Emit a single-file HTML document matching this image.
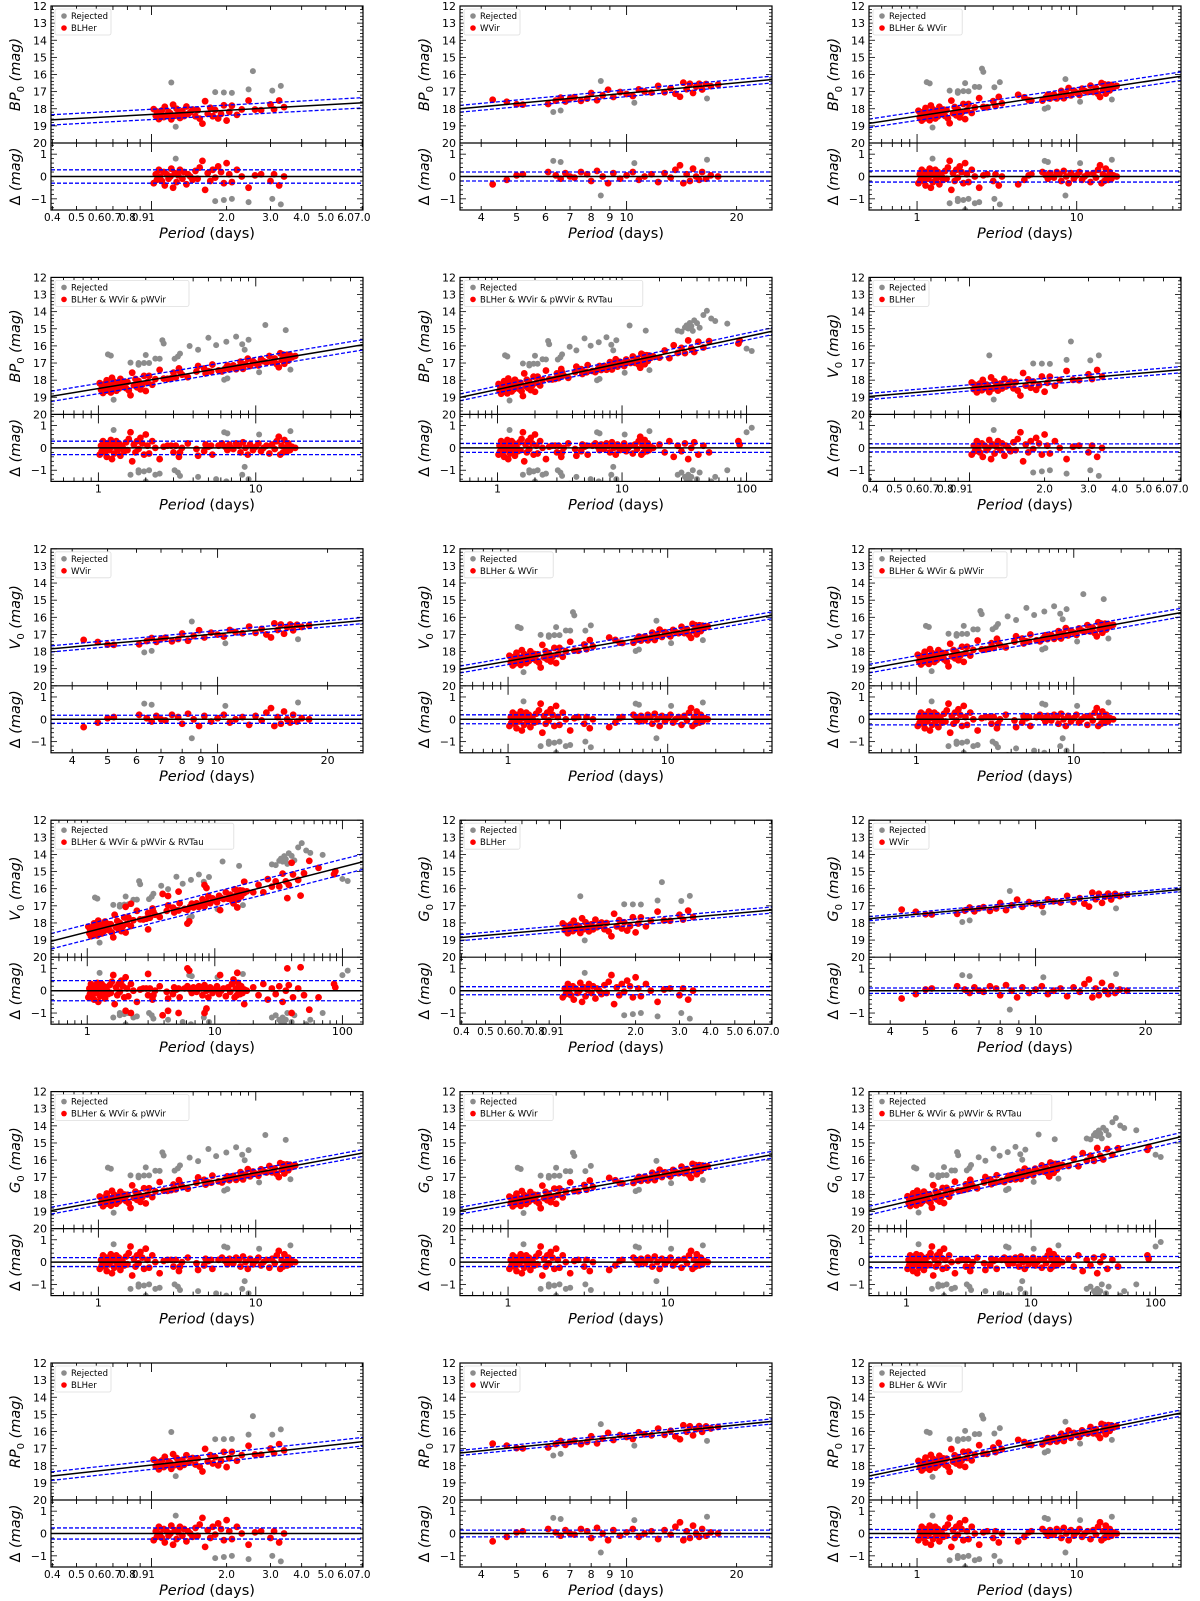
<!DOCTYPE html>
<html><head><meta charset="utf-8"><style>
html,body{margin:0;padding:0;background:#fff;}
svg{display:block;font-family:"DejaVu Sans","Liberation Sans",sans-serif;}
</style></head><body>
<svg id="fig" width="1200" height="1601" viewBox="0 0 1200 1601" xmlns="http://www.w3.org/2000/svg"></svg>
<script>
// ---- data (period in days, residual in mag) ----
const blP=[1.02,1.04,1.05,1.07,1.08,1.1,1.12,1.13,1.15,1.17,1.19,1.2,1.22,1.24,1.26,1.28,1.3,1.33,1.35,1.38,1.4,1.43,1.46,1.5,1.53,1.56,1.6,1.64,1.68,1.72,1.76,1.8,1.85,1.9,1.95,2.0,2.05,2.1,2.2,2.3,2.45,2.6,2.75,3.0,3.1,3.25,3.4];
const blD=[-0.3,0.1,-0.15,0.3,0.0,-0.2,0.2,-0.4,0.1,-0.1,0.0,0.35,-0.5,0.15,-0.25,0.05,0.3,-0.1,0.2,-0.35,0.1,0.0,-0.15,0.25,-0.1,0.4,0.7,-0.6,0.15,-0.2,0.3,-0.05,0.45,0.2,-0.3,0.6,0.1,-0.25,0.3,0.0,-0.5,0.05,0.1,-0.2,0.1,-0.4,0.0];
const wvP=[4.3,4.7,5.0,5.2,6.1,6.4,6.6,6.8,7.0,7.2,7.5,7.8,8.0,8.3,8.6,8.9,9.2,9.6,10.0,10.4,10.8,11.2,11.7,12.2,12.7,13.2,13.6,14.0,14.3,14.6,14.9,15.2,15.5,15.8,16.1,16.5,17.0,17.8];
const wvD=[-0.35,-0.15,0.05,0.1,0.2,0.05,-0.1,0.15,0.0,-0.05,0.2,0.1,-0.2,0.25,0.0,-0.3,0.15,-0.1,0.05,0.2,-0.15,0.0,0.1,-0.25,0.15,-0.05,0.3,0.5,-0.3,0.1,-0.2,0.35,0.0,-0.15,0.2,-0.1,0.05,0.0];
const pwP=[2.9,3.3,3.7,4.2,4.8,5.3,5.8];
const pwD=[0.1,-0.2,0.2,-0.05,0.15,-0.3,0.1];
const rvP=[20,22,24,26,28,30,32,34,36,38,41,45,50,86,88];
const rvD=[0.15,-0.2,0.3,-0.4,0.1,-0.15,0.2,-0.5,0.0,0.25,-0.3,0.1,-0.2,0.3,0.15];
const x10P=[2.0,2.2,3.0,3.9,4.3,5.2,6.1,6.3,8.3,8.6,11,15,17,37,40,47,55,65];
const x10D=[-0.9,-1.0,0.75,-1.1,-0.9,-1.0,1.0,0.9,-1.0,-0.8,0.7,0.8,-0.6,1.0,-1.0,1.05,-0.85,-0.3];
const blRP=[1.2,1.25,1.8,1.95,2.1,2.45,2.55,3.05,3.3];
const blRD=[-1.8,0.8,-1.1,-1.05,-1.0,-1.15,-2.2,-1.0,-1.25];
const wvRP=[6.3,6.6,8.5,10.5,16.6];
const wvRD=[0.7,0.65,-0.85,0.6,0.75];
const pwRP=[1.15,1.6,1.8,2.0,2.3,2.6,3.2,3.8,4.3,5.0,5.6,6.5,7.5,8.2,9.0,11.5,15.5];
const pwRD=[-1.9,-1.2,-1.0,-1.5,-1.2,-2.0,-1.1,-1.6,-1.3,-1.9,-1.4,-1.5,-1.7,-1.2,-1.4,-2.1,-1.6];
const rvRP=[28,30,32,33,34,35,36,37,38,40,42,45,48,52,56,70,100,110];
const rvRD=[-1.2,-1.1,-1.3,-1.4,-1.2,-1.5,-1.3,-1.0,-1.6,-1.4,-1.1,-1.8,-2.0,-1.5,-1.3,-1.0,0.7,0.9];
// panel fits: intercept, slope (mag = a + b log10 P), band half-width
const bands=["BP","BP","BP","BP","BP","V","V","V","V","V","G","G","G","G","G","RP","RP","RP"];
const kinds=["A","B","C","P","D","A","B","C","P","D","A","B","P","C","D","A","B","C"];
const fitA=[18.33,19.09,18.43,18.49,18.54,18.45,18.9,18.56,18.5,18.53,18.34,18.84,18.44,18.45,18.43,17.96,18.43,18.03];
const fitB=[-0.8,-2.0,-1.41,-1.52,-1.54,-1.25,-1.94,-1.62,-1.65,-1.9,-1.29,-2.0,-1.7,-1.67,-1.72,-1.61,-2.16,-1.88];
const bandW=[0.3,0.2,0.25,0.3,0.2,0.18,0.18,0.2,0.25,0.45,0.18,0.12,0.2,0.2,0.25,0.25,0.15,0.18];
const xA=["0.4","0.5","0.6","0.7","0.8","0.9","1","2.0","3.0","4.0","5.0","6.0","7.0"];
const xB=["4","5","6","7","8","9","10","20"];
const xC=["1","10"];
const xD=["1","10","100"];
const legendText={A:"BLHer",B:"WVir",C:"BLHer & WVir",P:"BLHer & WVir & pWVir",D:"BLHer & WVir & pWVir & RVTau"};

const NS="http://www.w3.org/2000/svg";
const svg=document.getElementById('fig');
function mk(tag,attrs,parent){const e=document.createElementNS(NS,tag);for(const k in attrs)e.setAttribute(k,attrs[k]);(parent||svg).appendChild(e);return e;}
const colL=[51,460,869], W=312, H1=137, H2=67;
function rowTop(r){return 6+r*271.4;}
const ranges={A:[0.395,7.05],B:[3.5,25],C:[0.5,45],P:[0.5,48],D:[0.5,160]};

for(let i=0;i<18;i++){
  const r=Math.floor(i/3), c=i%3, L=colL[c], T=rowTop(r);
  const k=kinds[i];
  let rng=ranges[k]; if(i===9) rng=[0.52,145];
  const lx0=Math.log10(rng[0]), lx1=Math.log10(rng[1]);
  const X=p=>L+(Math.log10(p)-lx0)/(lx1-lx0)*W;
  const Y=m=>T+(m-12)/8*H1;
  const T2=T+H1;
  const YR=d=>T2+(1.5-d)/3*H2;
  const a=fitA[i], b=fitB[i], bw=bandW[i];
  const fit=p=>a+b*Math.log10(p);
  const g=mk('g',{});
  
  
  const clipId='cp'+i, clipId2='cr'+i;
  const cp=mk('clipPath',{id:clipId},g); mk('rect',{x:L,y:T,width:W,height:H1},cp);
  const cr=mk('clipPath',{id:clipId2},g); mk('rect',{x:L,y:T2,width:W,height:H2},cr);
  let red=[], grey=[];
  const add=(arr,P,D)=>{const n=Math.min(P.length,D.length);for(let j=0;j<n;j++)arr.push([P[j],D[j]]);};
  if(k==="A"){add(red,blP,blD);add(grey,blRP,blRD);}
  if(k==="B"){add(red,wvP,wvD);add(grey,wvRP,wvRD);}
  if(k==="C"||k==="P"||k==="D"){add(red,blP,blD);add(red,wvP,wvD);add(grey,blRP,blRD);add(grey,wvRP,wvRD);}
  if(k==="C"){add(grey,pwRP.slice(0,6),pwRD.slice(0,6));}
  if(k==="P"||k==="D"){add(red,pwP,pwD);add(grey,pwRP,pwRD);}
  if(k==="D"){add(red,rvP,rvD);add(grey,rvRP,rvRD);}
  if(i===9){add(red,x10P,x10D);}
  const gt=mk('g',{'clip-path':'url(#'+clipId+')'},g);
  
  
  for(const [p,d] of grey){const e=mk('circle',{cx:X(p),cy:Y(fit(p)+d),r:3,fill:'#8c8c8c'},gt);
    
    }
  for(const [p,d] of red){const e=mk('circle',{cx:X(p),cy:Y(fit(p)+d),r:3.4,fill:'#ff0000'},gt);
    
    }
  const x0=X(rng[0]),x1=X(rng[1]);
  const fl=mk('line',{x1:x0,y1:Y(fit(rng[0])),x2:x1,y2:Y(fit(rng[1])),stroke:'#000','stroke-width':1.5},gt);
  
  
  for(const s of [-1,1]){const e=mk('line',{x1:x0,y1:Y(fit(rng[0])+s*bw),x2:x1,y2:Y(fit(rng[1])+s*bw),stroke:'#0000ff','stroke-width':1.3,'stroke-dasharray':'4,2'},gt);
    
    }
  const gr=mk('g',{'clip-path':'url(#'+clipId2+')'},g);
  
  
  for(const [p,d] of grey){const e=mk('circle',{cx:X(p),cy:YR(d),r:3,fill:'#8c8c8c'},gr);
    
    }
  for(const [p,d] of red){const e=mk('circle',{cx:X(p),cy:YR(d),r:3.4,fill:'#ff0000'},gr);
    
    }
  mk('line',{x1:L,y1:YR(0),x2:L+W,y2:YR(0),stroke:'#000','stroke-width':1.5},gr);
  for(const s of [-1,1]) mk('line',{x1:L,y1:YR(s*bw),x2:L+W,y2:YR(s*bw),stroke:'#0000ff','stroke-width':1.3,'stroke-dasharray':'4,2'},gr);
  mk('rect',{x:L,y:T,width:W,height:H1+H2,fill:'none',stroke:'#000','stroke-width':1.2},g);
  mk('line',{x1:L,y1:T2,x2:L+W,y2:T2,stroke:'#000','stroke-width':1.2},g);
  for(let m=12;m<=20.001;m+=0.2){const mm=Math.round(m*5)/5, maj=Math.abs(mm-Math.round(mm))<1e-6, len=maj?6:3, y=Y(mm);
    mk('line',{x1:L,y1:y,x2:L+len,y2:y,stroke:'#000','stroke-width':0.8},g);
    mk('line',{x1:L+W,y1:y,x2:L+W-len,y2:y,stroke:'#000','stroke-width':0.8},g);
    if(maj){const t=mk('text',{x:L-4,y:y+4,'font-size':11,'text-anchor':'end'},g);t.textContent=Math.round(mm);
      
      }}
  for(let d=-1.4;d<=1.41;d+=0.2){const dd=Math.round(d*5)/5, maj=Math.abs(dd-Math.round(dd))<1e-6, len=maj?6:3, y=YR(dd);
    mk('line',{x1:L,y1:y,x2:L+len,y2:y,stroke:'#000','stroke-width':0.8},g);
    mk('line',{x1:L+W,y1:y,x2:L+W-len,y2:y,stroke:'#000','stroke-width':0.8},g);
    if(maj){const t=mk('text',{x:L-4,y:y+4,'font-size':11,'text-anchor':'end'},g);t.textContent=(dd<0?'\u22121':(dd>0?'1':'0'));
      
      }}
  const labs=k==="A"?xA:k==="B"?xB:k==="D"?xD:xC;
  for(let dec=Math.floor(lx0);dec<=Math.ceil(lx1);dec++){for(let q=1;q<=9;q++){const p=q*Math.pow(10,dec);
    if(p<rng[0]*0.999||p>rng[1]*1.001)continue;const x=X(p);const maj=(q===1);const len=maj?9:4;
    for(const yy of [T,T2]) mk('line',{x1:x,y1:yy,x2:x,y2:yy+len,stroke:'#000','stroke-width':0.9},g);
    for(const yy of [T2,T2+H2]) mk('line',{x1:x,y1:yy,x2:x,y2:yy-len,stroke:'#000','stroke-width':0.9},g);}}
  for(const s of labs){const p=parseFloat(s);const t=mk('text',{x:X(p),y:T2+H2+11,'font-size':k==="A"?10.5:11,'text-anchor':'middle'},g);t.textContent=s;
    
    }
  const xl=mk('text',{x:L+W/2,y:T2+H2+28,'font-size':14.5,'text-anchor':'middle'},g);
  xl.innerHTML='<tspan font-style="italic">Period</tspan> (days)';
  
  
  const yl=mk('text',{x:0,y:0,'font-size':14.5,'text-anchor':'middle',transform:'translate('+(L-31)+','+(T+H1/2)+') rotate(-90)'},g);
  yl.innerHTML='<tspan font-style="italic">'+bands[i]+'</tspan><tspan font-size="10" dy="4">0</tspan><tspan dy="-4" font-style="italic"> (mag)</tspan>';
  
  
  const rl=mk('text',{x:0,y:0,'font-size':14.5,'text-anchor':'middle',transform:'translate('+(L-31)+','+(T2+H2/2)+') rotate(-90)'},g);
  rl.innerHTML='\u0394 <tspan font-style="italic">(mag)</tspan>';
  
  
  const lt=legendText[k];
  const lg=mk('g',{},g);
  
  
  const lw=22+lt.length*5.6;
  mk('rect',{x:L+4,y:T+3,width:Math.max(lw,56),height:26,fill:'#fff',stroke:'#ddd','stroke-width':0.8,rx:2},lg);
  mk('circle',{cx:L+13,cy:T+10,r:2.8,fill:'#8c8c8c'},lg);
  mk('circle',{cx:L+13,cy:T+22,r:2.8,fill:'#ff0000'},lg);
  const t1=mk('text',{x:L+20,y:T+13,'font-size':8.5},lg);t1.textContent='Rejected';
  
  
  const t2=mk('text',{x:L+20,y:T+25,'font-size':8.5},lg);t2.textContent=lt;
  
  
}
</script>
</body></html>
